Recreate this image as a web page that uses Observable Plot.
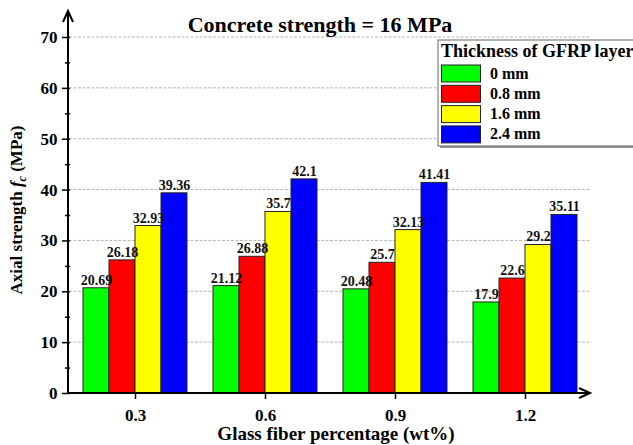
<!DOCTYPE html>
<html>
<head>
<meta charset="utf-8">
<script src="https://cdn.jsdelivr.net/npm/d3@7"></script>
<script src="https://cdn.jsdelivr.net/npm/@observablehq/plot@0.6"></script>
<style>
  html, body { margin: 0; padding: 0; background: #fff; }
  svg { display: block; }
</style>
</head>
<body>
<div id="chart"></div>
<script>
const fibers = ["0.3", "0.6", "0.9", "1.2"];
const thicknesses = ["0 mm", "0.8 mm", "1.6 mm", "2.4 mm"];
const colors = ["#00ff00", "#ff0000", "#ffff00", "#0000ff"];
const strength0 = [20.69, 21.12, 20.48, 17.9];
const strength08 = [26.18, 26.88, 25.7, 22.6];
const strength16 = [32.93, 35.7, 32.13, 29.2];
const strength24 = [39.36, 42.1, 41.41, 35.11];
const yMajorTicks = [0, 10, 20, 30, 40, 50, 60, 70];
const yMinorTicks = [5, 15, 25, 35, 45, 55, 65];
const titleText = "Concrete strength = 16 MPa";
const legendTitle = "Thickness of GFRP layer";
const xLabel = "Glass fiber percentage (wt%)";

const series = [strength0, strength08, strength16, strength24];
const rows = [];
series.forEach((vals, k) => vals.forEach((v, i) => rows.push({fiber: fibers[i], thickness: thicknesses[k], value: v})));

const FONT = "'Liberation Serif', 'Times New Roman', serif";
const W = 633, H = 445, ML = 68, MR = 42, MT = 37, MB = 52;
const padIn = 0.2, padOut = 0.1;
// the y axis is anchored to the first facet; shift it back onto the frame's left edge
const step = (W - ML - MR) / (fibers.length - padIn + 2 * padOut);
const axisShift = -step * padOut;

const plot = Plot.plot({
  width: W,
  height: H,
  marginLeft: ML,
  marginRight: MR,
  marginTop: MT,
  marginBottom: MB,
  style: {fontFamily: FONT, fontWeight: "bold", color: "#000", background: "#fff"},
  fx: {domain: fibers, paddingInner: padIn, paddingOuter: padOut, label: null},
  x: {domain: thicknesses, padding: 0, axis: null},
  y: {domain: [0, 70], axis: null},
  color: {domain: thicknesses, range: colors},
  marks: [
    Plot.axisY({ticks: yMajorTicks, tickSize: 8, tickPadding: 5, label: null, strokeWidth: 1.5, dx: axisShift}),
    Plot.axisY({ticks: yMinorTicks, tickSize: 5, text: null, label: null, strokeWidth: 1.5, dx: axisShift}),
    Plot.axisFx({anchor: "bottom", tickSize: 6, tickPadding: 9, label: null, strokeWidth: 1.5}),
    Plot.barY(rows, {fx: "fiber", x: "thickness", y: "value", fill: "thickness", stroke: "#222", strokeWidth: 1}),
    Plot.text(rows, {fx: "fiber", x: "thickness", y: "value", text: d => String(d.value), dy: -8, fontWeight: "bold", fill: "#111"})
  ]
});

document.getElementById("chart").appendChild(plot);

const svg = d3.select(plot);
// font sizes for Plot-drawn texts
svg.selectAll('g[aria-label="y-axis tick label"] text').style("font-size", "17px");
svg.selectAll('g[aria-label="fx-axis tick label"] text').style("font-size", "17px");
svg.selectAll('g[aria-label="text"] text').style("font-size", "14px");

const ys = plot.scale("y");
const x0 = ML, x1 = W - MR - 1, yBase = ys.apply(0);

// grid lines behind everything
const grid = svg.insert("g", "g");
yMajorTicks.filter(t => t > 0).forEach(t => {
  grid.append("line").attr("x1", x0 + 1).attr("x2", x1).attr("y1", ys.apply(t)).attr("y2", ys.apply(t))
    .attr("stroke", "#b5b5b5").attr("stroke-width", 1).attr("stroke-dasharray", "3,1.5");
});

// axes lines with arrows
const ax = svg.append("g").attr("fill", "none").attr("stroke", "#000").attr("stroke-width", 2);
ax.append("line").attr("x1", x0).attr("x2", x0).attr("y1", yBase + 1).attr("y2", 11);
ax.append("path").attr("d", `M${x0 - 5},${22} L${x0},${11} L${x0 + 5},${22}`);
ax.append("line").attr("x1", x0 - 1).attr("x2", x1).attr("y1", yBase).attr("y2", yBase);
ax.append("path").attr("d", `M${x1 - 11},${yBase - 5} L${x1},${yBase} L${x1 - 11},${yBase + 5}`);

const addText = (sel, x, y, size, anchor, str) =>
  sel.append("text").attr("x", x).attr("y", y).attr("text-anchor", anchor)
    .attr("font-family", FONT).attr("font-weight", "bold").attr("font-size", size).attr("fill", "#000").text(str);

// title
addText(svg, 320, 32, 22, "middle", titleText);

// x label
addText(svg, 336, 440, 19, "middle", xLabel);

// y label
const yl = svg.append("text").attr("transform", "translate(22,210) rotate(-90)").attr("text-anchor", "middle")
  .attr("font-family", FONT).attr("font-weight", "bold").attr("font-size", 17).attr("fill", "#000");
yl.append("tspan").text("Axial strength ");
yl.append("tspan").attr("font-style", "italic").text("f");
yl.append("tspan").attr("font-style", "italic").attr("font-size", 12).attr("dy", 4).text("c");
yl.append("tspan").attr("dy", -4).text(" (MPa)");

// legend
const color = plot.scale("color");
const lg = svg.append("g");
lg.append("rect").attr("x", 440).attr("y", 42).attr("width", 260).attr("height", 106).attr("fill", "#999");
lg.append("rect").attr("x", 438).attr("y", 40).attr("width", 260).attr("height", 106)
  .attr("fill", "#fff").attr("stroke", "#666").attr("stroke-width", 1);
addText(lg, 441, 57, 18, "start", legendTitle);
thicknesses.forEach((t, i) => {
  const y = 65 + i * 20.3;
  lg.append("rect").attr("x", 441.5).attr("y", y).attr("width", 39).attr("height", 17)
    .attr("fill", color.apply(t)).attr("stroke", "#222").attr("stroke-width", 1);
  addText(lg, 490, y + 13.5, 16, "start", t);
});
</script>
</body>
</html>
